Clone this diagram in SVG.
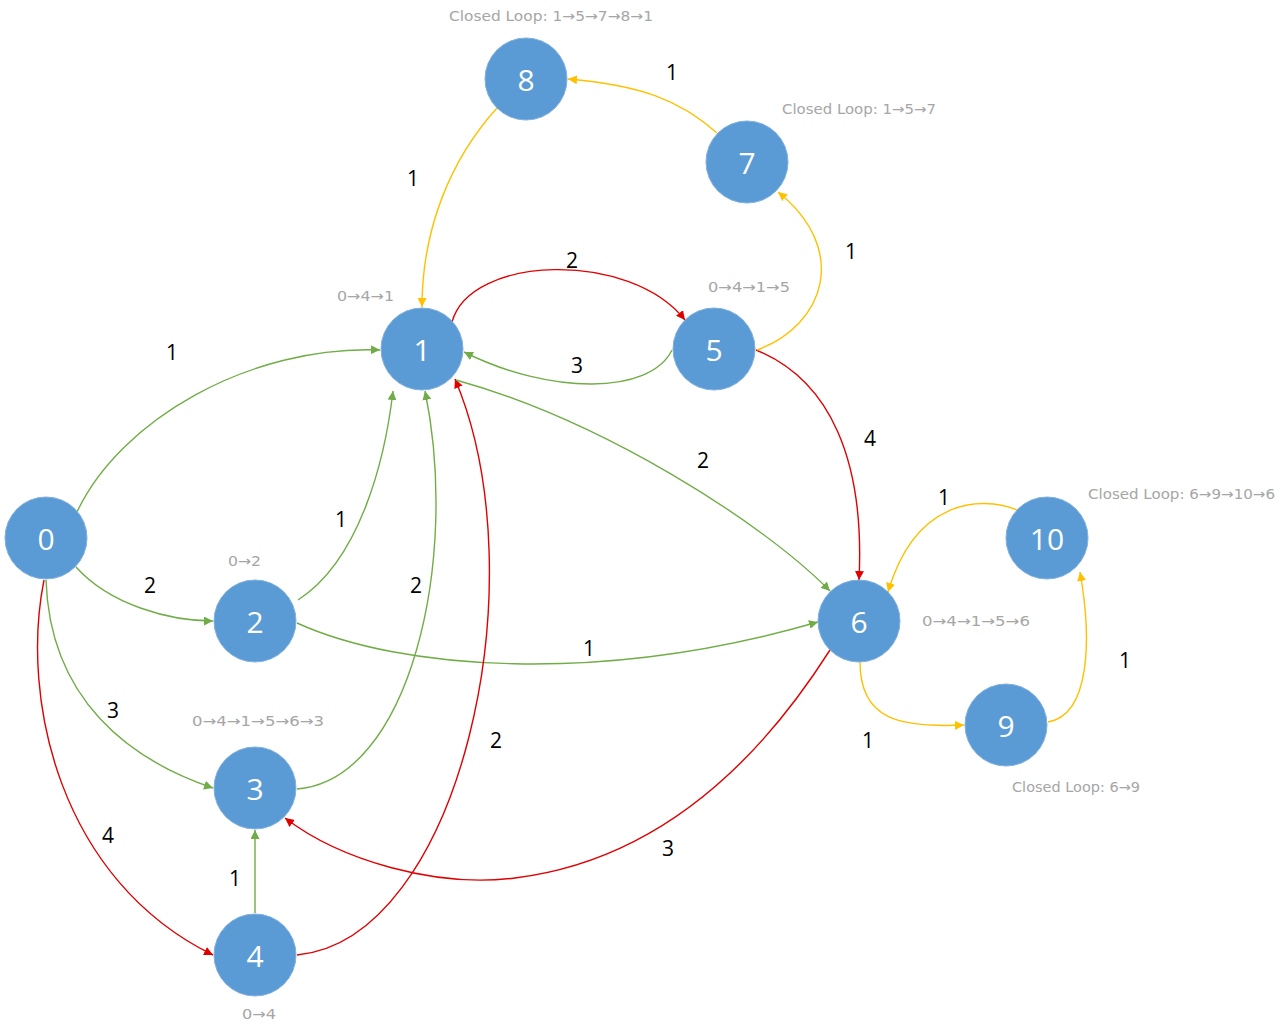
<svg xmlns="http://www.w3.org/2000/svg" width="1285" height="1034" viewBox="0 0 1285 1034">
<style>
.node circle{fill:#5B9BD5;stroke:#7FB0E0;stroke-width:1}
.node text{fill:#fff;font-family:"Open Sans","Liberation Sans",sans-serif;font-size:30px;text-anchor:middle;dominant-baseline:central}
.e{fill:none;stroke-width:1.4}
.g{stroke:#70AD47}.r{stroke:#E00000}.y{stroke:#FFC000}
.w{font-family:"Open Sans","Liberation Sans",sans-serif;font-size:21px;fill:#000;text-anchor:middle;dominant-baseline:central}
.a{font-family:"DejaVu Sans",sans-serif;font-size:14px;fill:#A6A6A6}
</style>
<defs>
<marker id="mg" viewBox="0 0 10 10" refX="10" refY="5" markerWidth="9" markerHeight="9" markerUnits="userSpaceOnUse" orient="auto"><path d="M0,0L10,5L0,10z" fill="#70AD47"/></marker>
<marker id="mr" viewBox="0 0 10 10" refX="10" refY="5" markerWidth="9" markerHeight="9" markerUnits="userSpaceOnUse" orient="auto"><path d="M0,0L10,5L0,10z" fill="#E00000"/></marker>
<marker id="my" viewBox="0 0 10 10" refX="10" refY="5" markerWidth="9" markerHeight="9" markerUnits="userSpaceOnUse" orient="auto"><path d="M0,0L10,5L0,10z" fill="#FFC000"/></marker>
</defs>
<rect width="1285" height="1034" fill="#fff"/>
<g id="connectors">
<path class="e g" marker-end="url(#mg)" d="M77,512 C120,420 250,345 380,350"/>
<path class="e g" marker-end="url(#mg)" d="M76,567 C110,605 170,621 213,621"/>
<path class="e g" marker-end="url(#mg)" d="M46,580 C50,700 130,760 213,788"/>
<path class="e r" marker-end="url(#mr)" d="M44,580 C20,700 60,880 213,955"/>
<path class="e g" marker-end="url(#mg)" d="M298,600 C360,560 385,460 393,391"/>
<path class="e g" marker-end="url(#mg)" d="M297,623 C400,670 600,685 818,622"/>
<path class="e g" marker-end="url(#mg)" d="M297,789 C410,780 460,560 425,391"/>
<path class="e r" marker-end="url(#mr)" d="M297,955 C460,940 540,580 455,379"/>
<path class="e g" marker-end="url(#mg)" d="M255,913 L255,830"/>
<path class="e r" marker-end="url(#mr)" d="M452,322 C470,255 630,250 685,320"/>
<path class="e g" marker-end="url(#mg)" d="M672,350 C650,395 550,395 464,352"/>
<path class="e g" marker-end="url(#mg)" d="M456,380 C600,420 760,520 830,591"/>
<path class="e r" marker-end="url(#mr)" d="M756,350 C830,380 865,460 859,580"/>
<path class="e y" marker-end="url(#my)" d="M757,350 C825,325 850,250 778,192"/>
<path class="e y" marker-end="url(#my)" d="M717,133 C680,100 640,85 568,79"/>
<path class="e y" marker-end="url(#my)" d="M497,108 C450,160 422,230 422,307"/>
<path class="e r" marker-end="url(#mr)" d="M830,650 C760,760 660,860 515,878 C435,888 340,860 285,818"/>
<path class="e y" marker-end="url(#my)" d="M860,662 C860,720 900,728 964,725"/>
<path class="e y" marker-end="url(#my)" d="M1048,722 C1090,715 1092,640 1080,572"/>
<path class="e y" marker-end="url(#my)" d="M1017,510 C980,495 915,500 888,592"/>
</g>
<g id="weights">
<text class="w" x="172" y="352">1</text>
<text class="w" x="150" y="585">2</text>
<text class="w" x="113" y="710">3</text>
<text class="w" x="108" y="835">4</text>
<text class="w" x="341" y="519">1</text>
<text class="w" x="589" y="648">1</text>
<text class="w" x="416" y="585">2</text>
<text class="w" x="496" y="740">2</text>
<text class="w" x="235" y="878">1</text>
<text class="w" x="572" y="260">2</text>
<text class="w" x="577" y="365">3</text>
<text class="w" x="703" y="460">2</text>
<text class="w" x="870" y="438">4</text>
<text class="w" x="851" y="251">1</text>
<text class="w" x="672" y="72">1</text>
<text class="w" x="413" y="178">1</text>
<text class="w" x="668" y="848">3</text>
<text class="w" x="868" y="740">1</text>
<text class="w" x="1125" y="660">1</text>
<text class="w" x="944" y="497">1</text>
</g>
<g id="annotations">
<text class="a" x="449" y="21" textLength="204" lengthAdjust="spacingAndGlyphs">Closed Loop: 1→5→7→8→1</text>
<text class="a" x="782" y="114" textLength="154" lengthAdjust="spacingAndGlyphs">Closed Loop: 1→5→7</text>
<text class="a" x="337" y="301" textLength="57" lengthAdjust="spacingAndGlyphs">0→4→1</text>
<text class="a" x="708" y="292" textLength="82" lengthAdjust="spacingAndGlyphs">0→4→1→5</text>
<text class="a" x="1088" y="499" textLength="187" lengthAdjust="spacingAndGlyphs">Closed Loop: 6→9→10→6</text>
<text class="a" x="228" y="566" textLength="33" lengthAdjust="spacingAndGlyphs">0→2</text>
<text class="a" x="922" y="626" textLength="108" lengthAdjust="spacingAndGlyphs">0→4→1→5→6</text>
<text class="a" x="192" y="726" textLength="132" lengthAdjust="spacingAndGlyphs">0→4→1→5→6→3</text>
<text class="a" x="1012" y="792" textLength="128" lengthAdjust="spacingAndGlyphs">Closed Loop: 6→9</text>
<text class="a" x="242" y="1019" textLength="34" lengthAdjust="spacingAndGlyphs">0→4</text>
</g>
<g id="n0" class="node"><circle cx="46" cy="538" r="41"/><text x="46" y="538">0</text></g>
<g id="n1" class="node"><circle cx="422" cy="349" r="41"/><text x="422" y="349">1</text></g>
<g id="n2" class="node"><circle cx="255" cy="621" r="41"/><text x="255" y="621">2</text></g>
<g id="n3" class="node"><circle cx="255" cy="788" r="41"/><text x="255" y="788">3</text></g>
<g id="n4" class="node"><circle cx="255" cy="955" r="41"/><text x="255" y="955">4</text></g>
<g id="n5" class="node"><circle cx="714" cy="349" r="41"/><text x="714" y="349">5</text></g>
<g id="n6" class="node"><circle cx="859" cy="621" r="41"/><text x="859" y="621">6</text></g>
<g id="n7" class="node"><circle cx="747" cy="162" r="41"/><text x="747" y="162">7</text></g>
<g id="n8" class="node"><circle cx="526" cy="79" r="41"/><text x="526" y="79">8</text></g>
<g id="n9" class="node"><circle cx="1006" cy="725" r="41"/><text x="1006" y="725">9</text></g>
<g id="n10" class="node"><circle cx="1047" cy="538" r="41"/><text x="1047" y="538">10</text></g>
</svg>
